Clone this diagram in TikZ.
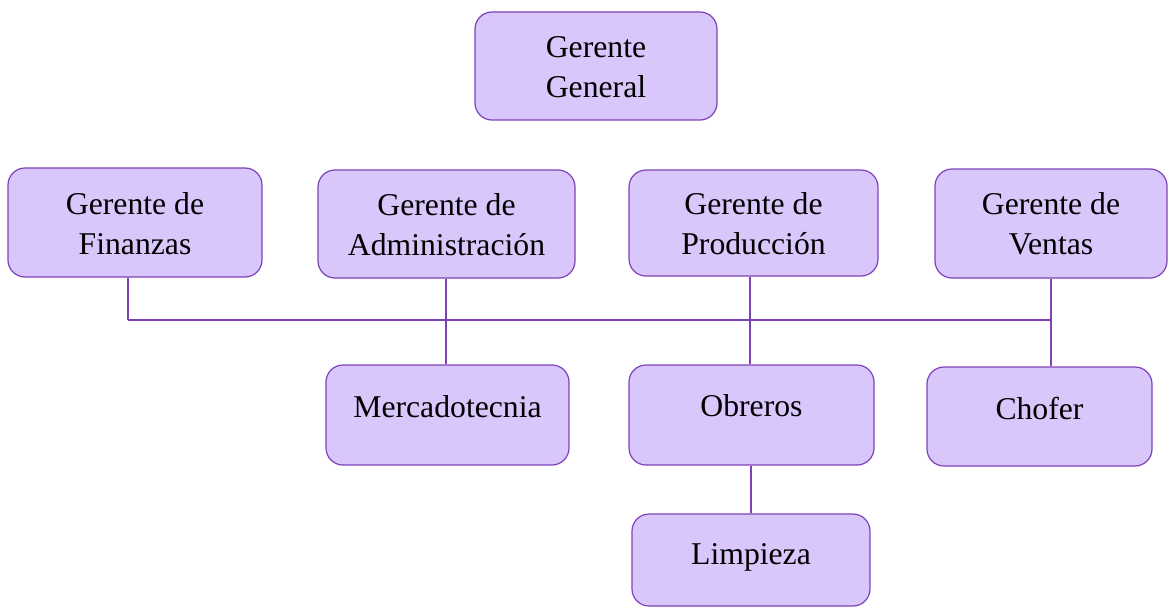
\documentclass[tikz,border=0pt]{standalone}
\usepackage{fontspec}
\setmainfont{Liberation Serif}
\definecolor{boxfill}{RGB}{217,198,250}
\definecolor{boxline}{RGB}{125,65,185}
\begin{document}
\begin{tikzpicture}[x=1pt,y=-1pt,
  box/.style={draw=boxline, fill=boxfill, line width=1.2pt, rounded corners=17pt, inner sep=0pt},
  txt/.style={font=\fontsize{31.7}{40}\selectfont, align=center, inner sep=0pt, text=black},
  conn/.style={draw=boxline, line width=1.2pt}]
\useasboundingbox (0,0) rectangle (1169,610);
% boxes
\node[box, minimum width=242pt, minimum height=108pt] (gg) at (596,66) {};
\node[box, minimum width=254pt, minimum height=109pt] (fin) at (135,222.5) {};
\node[box, minimum width=257pt, minimum height=108pt] (adm) at (446.5,224) {};
\node[box, minimum width=249pt, minimum height=106pt] (pro) at (753.5,223) {};
\node[box, minimum width=232pt, minimum height=109pt] (ven) at (1051,223.5) {};
\node[box, minimum width=243pt, minimum height=100pt] (mer) at (447.5,415) {};
\node[box, minimum width=245pt, minimum height=100pt] (obr) at (751.5,415) {};
\node[box, minimum width=225pt, minimum height=99pt] (cho) at (1039.5,416.5) {};
\node[box, minimum width=238pt, minimum height=92pt] (lim) at (751,560) {};
% texts
\node[txt] (ggT) at (596,67) {Gerente\\General};
\node[txt] (finT) at (135,224) {Gerente de\\Finanzas};
\node[txt] (admT) at (446.5,225) {Gerente de\\Administración};
\node[txt] (proT) at (753.5,224) {Gerente de\\Producción};
\node[txt] (venT) at (1051,224) {Gerente de\\Ventas};
\node[txt] (merT) at (447.5,407) {Mercadotecnia};
\node[txt] (obrT) at (751.5,406) {Obreros};
\node[txt] (choT) at (1039.5,408) {Chofer};
\node[txt] (limT) at (751,557) {Limpieza};
% bus
\coordinate (b1) at (128,320);
\coordinate (b2) at (446,320);
\coordinate (b3) at (750,320);
\coordinate (b4) at (1051,320);
\draw[conn] (b1) -- (b4);
\draw[conn] (fin.south -| b1) -- (b1);
\draw[conn] (adm.south -| b2) -- (mer.north -| b2);
\draw[conn] (pro.south -| b3) -- (obr.north -| b3);
\draw[conn] (ven.south -| b4) -- (cho.north -| b4);
\draw[conn] (obr.south -| lim.north) -- (lim.north);
\end{tikzpicture}
\end{document}
